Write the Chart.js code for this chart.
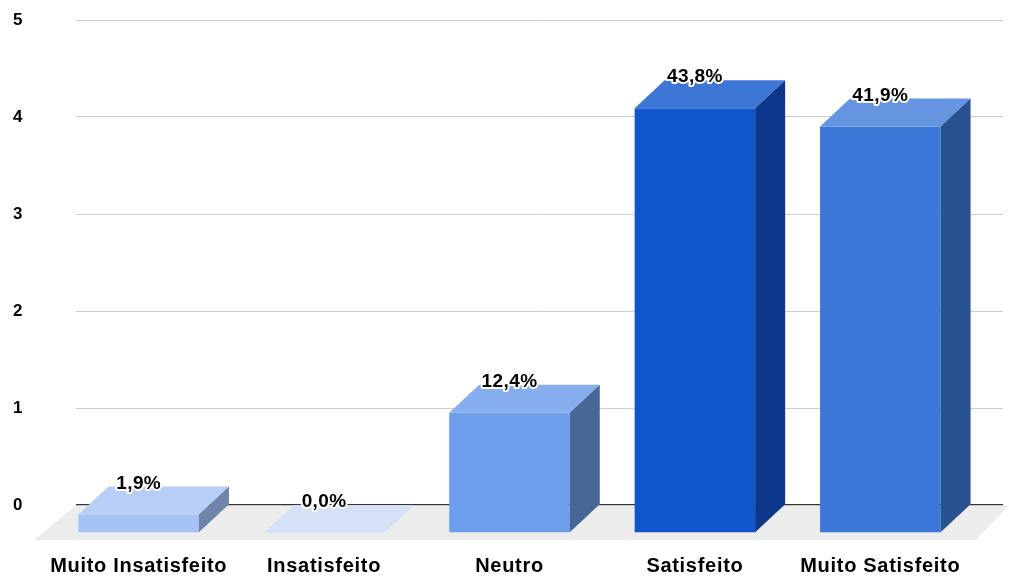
<!DOCTYPE html>
<html>
<head>
<meta charset="utf-8">
<script src="https://cdn.jsdelivr.net/npm/chart.js@4"></script>
<style>
  html, body { margin: 0; padding: 0; background: #ffffff; }
  #wrap { width: 1009px; height: 576px; }
</style>
</head>
<body>
<div id="wrap"><canvas id="myChart" width="1009" height="576"></canvas></div>
<script>
// data (percent / 10 on the 0-5 axis)
let categories = ["Muito Insatisfeito", "Insatisfeito", "Neutro", "Satisfeito", "Muito Satisfeito"];
let values = [0.19, 0, 1.24, 4.38, 4.19];
let valueLabels = ["1,9%", "0,0%", "12,4%", "43,8%", "41,9%"];
let yTicks = [0, 1, 2, 3, 4, 5];

// colours of the three visible faces
let frontColors = ["#a4c2f4", "#c9d9f5", "#6d9eeb", "#1155cc", "#3c78d8"];
let topColors = ["#b7cff6", "#d4e1f7", "#86aeee", "#3e76d6", "#6594e0"];
let sideColors = ["#6e84a9", "#9aaac4", "#476797", "#0c378a", "#2a5190"];

// 3d depth offsets
let depthX = 30;
let depthY = 28;

let fakeThreeD = {
    id: "fakeThreeD",
    beforeDraw(chart) {
        chart.ctx.letterSpacing = "0.7px";
    },
    beforeDatasetsDraw(chart) {
        let ctx = chart.ctx;
        let area = chart.chartArea;
        let zeroY = chart.scales.y.getPixelForValue(0);
        // floor
        ctx.save();
        ctx.fillStyle = "#ececec";
        ctx.beginPath();
        ctx.moveTo(area.left, zeroY + 0.5);
        ctx.lineTo(area.right + 6, zeroY + 0.5);
        ctx.lineTo(area.right + 6 - 33, zeroY + 35);
        ctx.lineTo(area.left - 42, zeroY + 35);
        ctx.closePath();
        ctx.fill();
        ctx.restore();
        // front faces are the normal bars pushed forward
        ctx.save();
        ctx.translate(-depthX, depthY);
    },
    afterDatasetsDraw(chart) {
        let ctx = chart.ctx;
        ctx.restore();
        let bars = chart.getDatasetMeta(0).data;
        bars.forEach(function (bar, i) {
            let p = bar.getProps(["x", "y", "base", "width"], true);
            let l = p.x - p.width / 2;
            let r = p.x + p.width / 2;
            // top face
            ctx.fillStyle = topColors[i];
            ctx.beginPath();
            ctx.moveTo(l - depthX, p.y + depthY);
            ctx.lineTo(r - depthX, p.y + depthY);
            ctx.lineTo(r, p.y);
            ctx.lineTo(l, p.y);
            ctx.closePath();
            ctx.fill();
            // side face
            if (p.base - p.y > 0.5) {
                ctx.fillStyle = sideColors[i];
                ctx.beginPath();
                ctx.moveTo(r - depthX, p.y + depthY);
                ctx.lineTo(r, p.y);
                ctx.lineTo(r, p.base);
                ctx.lineTo(r - depthX, p.base + depthY);
                ctx.closePath();
                ctx.fill();
            }
        });
        // value labels
        ctx.save();
        ctx.font = "bold 19px 'Liberation Sans', Arial, sans-serif";
        ctx.letterSpacing = "0.4px";
        ctx.textAlign = "center";
        ctx.textBaseline = "middle";
        ctx.lineJoin = "round";
        ctx.lineWidth = 4;
        ctx.strokeStyle = "#ffffff";
        ctx.fillStyle = "#000000";
        bars.forEach(function (bar, i) {
            let p = bar.getProps(["x", "y"], true);
            ctx.strokeText(valueLabels[i], p.x - depthX, p.y - 3);
            ctx.fillText(valueLabels[i], p.x - depthX, p.y - 3);
        });
        ctx.restore();
    }
};

let ctx1 = document.getElementById("myChart").getContext("2d");
let myChart = new Chart(ctx1, {
    type: "bar",
    data: {
        labels: categories,
        datasets: [{
            data: values,
            backgroundColor: frontColors,
            borderWidth: 0,
            barPercentage: 0.65,
            categoryPercentage: 1,
            clip: false
        }]
    },
    options: {
        responsive: false,
        animation: false,
        events: [],
        layout: { padding: { left: 13, right: 6, top: 20, bottom: 0 } },
        plugins: {
            legend: { display: false },
            tooltip: { enabled: false }
        },
        scales: {
            x: {
                grid: {
                    display: true,
                    drawOnChartArea: false,
                    drawTicks: true,
                    tickLength: 49,
                    color: "rgba(0,0,0,0)"
                },
                border: { display: false },
                ticks: {
                    color: "#000000",
                    font: { family: "'Liberation Sans', Arial, sans-serif", size: 20, weight: "bold" },
                    padding: 0,
                    labelOffset: -depthX,
                    maxRotation: 0,
                    autoSkip: false
                },
                afterFit(scale) { scale.height = 71; }
            },
            y: {
                min: 0,
                max: 5,
                afterBuildTicks(scale) { scale.ticks = yTicks.map(v => ({ value: v })); },
                afterFit(scale) { scale.width = 63; },
                border: { display: false },
                grid: {
                    drawTicks: false,
                    color: c => c.tick && c.tick.value === 0 ? "#333333" : "#cccccc",
                    lineWidth: c => c.tick && c.tick.value === 0 ? 1.5 : 1
                },
                ticks: {
                    crossAlign: "far",
                    color: "#000000",
                    font: { family: "'Liberation Sans', Arial, sans-serif", size: 17, weight: "bold" }
                }
            }
        }
    },
    plugins: [fakeThreeD]
});
</script>
</body>
</html>
